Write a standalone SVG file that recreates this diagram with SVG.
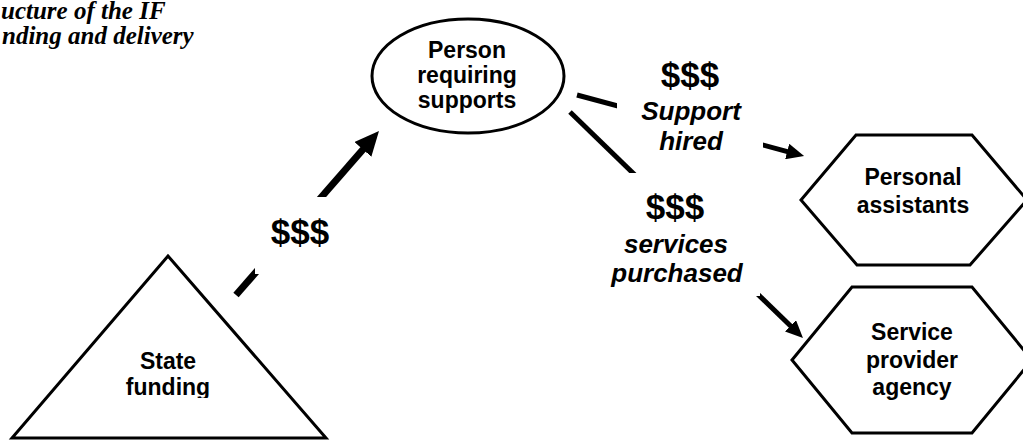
<svg xmlns="http://www.w3.org/2000/svg" width="1023" height="440" viewBox="0 0 1023 440">
<style>
.shape{fill:#fff;stroke:#000;stroke-width:3}
.lbl{font-family:"Liberation Sans",Arial,sans-serif;font-weight:bold;font-size:23px;fill:#000;text-anchor:middle}
.money{font-family:"Liberation Sans",Arial,sans-serif;font-weight:bold;font-size:35px;fill:#000;text-anchor:middle}
.note{font-family:"Liberation Sans",Arial,sans-serif;font-weight:bold;font-style:italic;font-size:26px;fill:#000;text-anchor:middle}
.title{font-family:"Liberation Serif","Times New Roman",serif;font-weight:bold;font-style:italic;font-size:25px;fill:#000;text-anchor:start}
.conn{stroke:#000;fill:none;marker-end:url(#ah)}
</style>
<defs>
<marker id="ah" markerWidth="3.5" markerHeight="3.2" refX="1" refY="1.6" orient="auto" markerUnits="strokeWidth">
<path d="M0,0 L3.5,1.6 L0,3.2 z" fill="#000"/>
</marker>
<clipPath id="clipState"><rect x="0" y="330" width="360" height="68"/></clipPath>
</defs>
<rect width="1023" height="440" fill="#fff"/>
<g id="title">
<text class="title" x="1" y="19">ucture of the IF</text>
<text class="title" x="2" y="44">nding and delivery</text>
</g>
<g id="connectors">
<line class="conn" x1="236" y1="295" x2="367.5" y2="144.2" stroke-width="7"/>
<line class="conn" x1="577" y1="95" x2="792" y2="152.8" stroke-width="5"/>
<line class="conn" x1="570" y1="112" x2="794" y2="329.3" stroke-width="5"/>
<rect x="255" y="197" width="90" height="77" fill="#fff"/>
<rect x="617" y="50" width="146" height="100" fill="#fff"/>
<rect x="600" y="173" width="160" height="123" fill="#fff"/>
<text class="money" x="300" y="244">$$$</text>
<text class="money" x="690" y="87">$$$</text>
<text class="note" x="691" y="120">Support</text>
<text class="note" x="691" y="150">hired</text>
<text class="money" x="675" y="219">$$$</text>
<text class="note" x="676" y="253">services</text>
<text class="note" x="677" y="282">purchased</text>
</g>
<g id="state-funding">
<polygon class="shape" points="168,256 326,438 12,438"/>
<g clip-path="url(#clipState)">
<text class="lbl" x="168" y="369">State</text>
<text class="lbl" x="168" y="395">funding</text>
</g>
</g>
<g id="person">
<ellipse class="shape" cx="468" cy="76" rx="96" ry="57"/>
<text class="lbl" x="467" y="58">Person</text>
<text class="lbl" x="467" y="83">requiring</text>
<text class="lbl" x="467" y="108">supports</text>
</g>
<g id="personal-assistants">
<polygon class="shape" points="801,200 856,135 972,135 1027,200 970,265 857,265"/>
<text class="lbl" x="913" y="185">Personal</text>
<text class="lbl" x="913" y="213">assistants</text>
</g>
<g id="service-provider">
<polygon class="shape" points="792,360 852,287 972,287 1032,360 972,433 852,433"/>
<text class="lbl" x="912" y="340">Service</text>
<text class="lbl" x="912" y="368">provider</text>
<text class="lbl" x="912" y="395">agency</text>
</g>
</svg>
